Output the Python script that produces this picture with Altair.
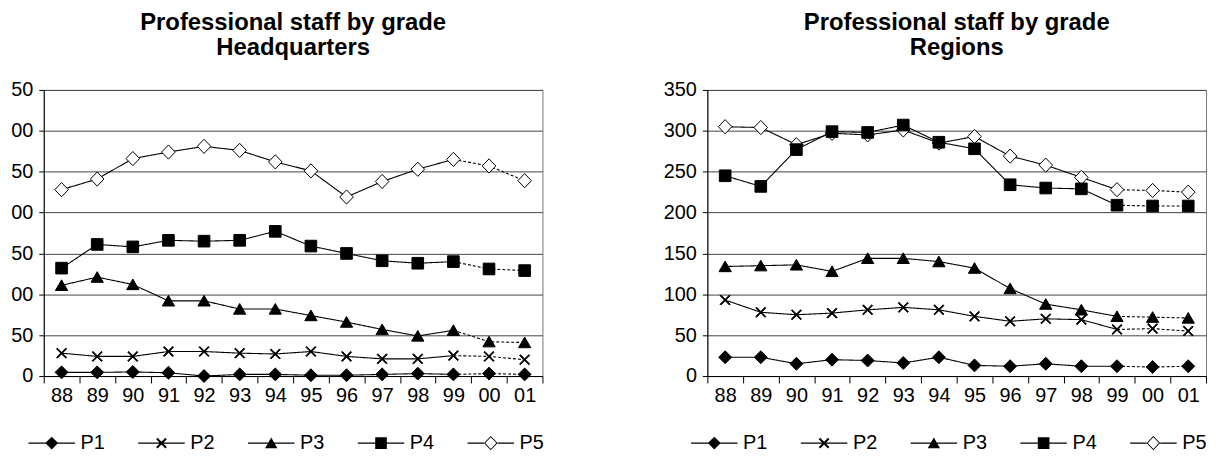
import altair as alt
import pandas as pd

years = ["88", "89", "90", "91", "92", "93", "94", "95", "96", "97", "98", "99", "00", "01"]
series = ["P1", "P2", "P3", "P4", "P5"]
proj_start = "99"  # dotted (projected) from 99 onward

hq = {
    "P1": [4.5, 4.5, 5, 4, 0, 2, 2, 1, 1, 2, 3, 2, 3, 2],
    "P2": [28, 24, 24, 30, 30, 28, 27, 30, 24, 21, 21, 25, 24, 20],
    "P3": [111, 121, 112, 92, 92, 82, 82, 74, 66, 57, 49, 56, 42, 41],
    "P4": [132, 161, 158, 166, 165, 166, 177, 159, 150, 141, 138, 140, 131, 129],
    "P5": [228, 241, 266, 274, 281, 276, 262, 251, 219, 238, 253, 265, 257, 239],
}
rg = {
    "P1": [23, 23, 15, 20, 19, 16, 23, 13, 12, 15, 12, 12, 11, 12],
    "P2": [93, 78, 75, 77, 81, 84, 81, 73, 67, 70, 69, 57, 58, 55],
    "P3": [134, 135, 136, 128, 144, 144, 140, 132, 107, 88, 81, 73, 72, 71],
    "P4": [245, 232, 277, 299, 298, 307, 286, 278, 234, 230, 229, 209, 208, 208],
    "P5": [305, 304, 283, 297, 295, 301, 285, 293, 269, 258, 243, 228, 227, 225],
}

# marker shapes (unit space, scaled by sqrt(size)/2), fill-based
CROSS = ("M-0.829,-0.611L0.611,0.829L0.829,0.611L-0.611,-0.829Z"
         "M-0.611,0.829L0.829,-0.611L0.611,-0.829L-0.829,0.611Z")
marker_paths = [
    "M0,-1L1,0L0,1L-1,0Z",
    ("M-0.78,-0.66L0.66,0.78L0.78,0.66L-0.66,-0.78Z"
     "M-0.66,0.78L0.78,-0.66L0.66,-0.78L-0.78,0.66Z"),
    "M0,-0.85L0.95,0.8L-0.95,0.8Z",
    "M-0.9,-0.9H0.9V0.9H-0.9Z",
    "M0,-1.1L1.05,0L0,1.1L-1.05,0Z",
]
LINE_POS = "M-3.6,-0.09L3.6,-0.09L3.6,0.09L-3.6,0.09Z"
LINE_NEG = "M-3.6,-0.09L-3.6,0.09L3.6,0.09L3.6,-0.09Z"
legend_paths = [
    LINE_POS + "M0,-1L1,0L0,1L-1,0Z",
    LINE_NEG + CROSS,
    LINE_POS + "M0,-0.85L0.95,0.8L-0.95,0.8Z",
    LINE_POS + "M-0.9,-0.9L0.9,-0.9L0.9,0.9L-0.9,0.9Z",
    ("M-3.6,-0.09L-1.05,-0.09L-1.05,0.09L-3.6,0.09Z"
     "M1.05,-0.09L3.6,-0.09L3.6,0.09L1.05,0.09Z"
     "M0,-1.1L1.05,0L0,1.1L-1.05,0Z"
     "M0,-0.9L-0.86,0L0,0.9L0.86,0Z"),
]
fills = ["black", "black", "black", "black", "white"]

FONT = "Liberation Sans"


def make_frames(d):
    pts, lines = [], []
    ip = years.index(proj_start)
    for s in ["P5", "P1", "P2", "P3", "P4"]:
        for i, (y, v) in enumerate(zip(years, d[s])):
            pts.append({"year": y, "value": v, "series": s})
            if i <= ip:
                lines.append({"year": y, "value": v, "series": s, "part": "actual"})
            if i >= ip:
                lines.append({"year": y, "value": v, "series": s, "part": "proj"})
    return pd.DataFrame(pts), pd.DataFrame(lines)


def panel(d, subtitle, label_expr, legend_x):
    pts, lines = make_frames(d)
    x = alt.X(
        "year:N",
        scale=alt.Scale(type="band", domain=years, paddingInner=0, paddingOuter=0),
        axis=alt.Axis(title=None, labelAngle=0, tickBand="extent", tickSize=7,
                      labelPadding=3, grid=False),
        bandPosition=0.5,
    )
    yax = dict(title=None, values=list(range(0, 351, 50)), tickSize=5, labelPadding=6,
               grid=True, gridColor="#444444", gridWidth=1)
    if label_expr:
        yax["labelExpr"] = label_expr
    y = alt.Y("value:Q", scale=alt.Scale(domain=[0, 350], nice=False), axis=alt.Axis(**yax))

    line_layer = alt.Chart(lines).mark_line(color="black", strokeWidth=1.1).encode(
        x=x, y=y,
        detail="series:N",
        strokeDash=alt.StrokeDash("part:N", scale=alt.Scale(domain=["actual", "proj"],
                                  range=[[1, 0], [3, 2]]), legend=None),
    )
    point_layer = alt.Chart(pts).mark_point(filled=True, stroke="black", strokeWidth=1,
                                            size=169, opacity=1).encode(
        x=x, y=y,
        shape=alt.Shape("series:N", scale=alt.Scale(domain=series, range=marker_paths), legend=None),
        fill=alt.Fill("series:N", scale=alt.Scale(domain=series, range=fills), legend=None),
    )
    legend_layer = alt.Chart(pts).mark_point(filled=True, fill="black",
                                             size=169, opacity=0).encode(
        x=x, y=y,
        shape=alt.Shape("series:N", scale=alt.Scale(domain=series, range=legend_paths),
                        legend=alt.Legend(
                            title=None, orient="none", legendX=legend_x, legendY=345.5,
                            direction="horizontal", columns=5, columnPadding=32.5,
                            labelOffset=19, labelFont=FONT, labelFontSize=20,
                            labelColor="black", padding=0, rowPadding=0,
                            symbolOpacity=1, symbolFillColor="black",
                            symbolStrokeWidth=0, symbolSize=169)),
    )
    return alt.layer(line_layer, point_layer, legend_layer).resolve_scale(
        shape="independent"
    ).properties(
        width=502, height=288,
        title=alt.Title(["Professional staff by grade", subtitle]),
    )


left = panel(hq, "Headquarters", "datum.value >= 100 ? slice(datum.label, 1) : datum.label", -2)
right = panel(rg, "Regions", None, -3)

chart = alt.hconcat(left, right, spacing=115).properties(
    padding={"left": 2, "top": 1, "right": 0, "bottom": 0}
).configure_axis(
    labelFont=FONT, labelFontSize=20, labelColor="black",
    domainColor="black", tickColor="black", domainWidth=1, tickWidth=1,
).configure_view(
    stroke="#777777", strokeWidth=1
).configure_title(
    font=FONT, fontSize=24, fontWeight="bold", color="black", anchor="middle",
    frame="group", baseline="bottom", lineHeight=25, offset=20,
)

chart.save("out.html", embed_options={"renderer": "svg", "actions": False})
